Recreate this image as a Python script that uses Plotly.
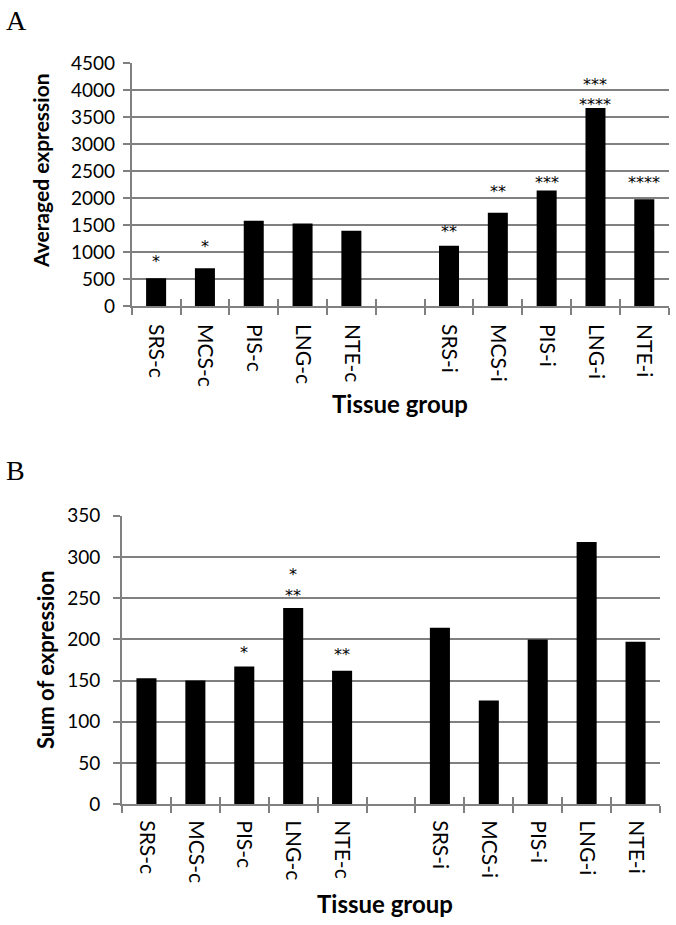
import plotly.graph_objects as go

# ---------------- data ----------------
categories = ["SRS-c", "MCS-c", "PIS-c", "LNG-c", "NTE-c", " ",
              "SRS-i", "MCS-i", "PIS-i", "LNG-i", "NTE-i"]
avg_expression = [513, 698, 1580, 1531, 1395, None, 1117, 1728, 2142, 3672, 1981]
sum_expression = [153, 150, 167, 238, 162, None, 214, 126, 200, 318, 197]

avg_ticks = [0, 500, 1000, 1500, 2000, 2500, 3000, 3500, 4000, 4500]
sum_ticks = [0, 50, 100, 150, 200, 250, 300, 350]

# significance labels (stacked from the bar upwards)
avg_sig = {"SRS-c": ["*"], "MCS-c": ["*"], "SRS-i": ["**"], "MCS-i": ["**"],
           "PIS-i": ["***"], "LNG-i": ["****", "***"], "NTE-i": ["****"]}
sum_sig = {"PIS-c": ["*"], "LNG-c": ["**", "*"], "NTE-c": ["**"]}

# ---------------- layout / style (pixels above bar top) ----------------
avg_sig_px = {"SRS-c": [20], "MCS-c": [25], "SRS-i": [17], "MCS-i": [24],
              "PIS-i": [11], "LNG-i": [6, 26], "NTE-i": [20]}
sum_sig_px = {"PIS-c": [17], "LNG-c": [16, 37], "NTE-c": [19]}

W, H = 676, 925
GRID = "#808080"
FONT = "Lato"


def px_x(v):
    return v / W


def px_y(v):
    return 1 - v / H


A_x = [px_x(131.7), px_x(668.7)]
A_y = [px_y(306), px_y(63.3)]
B_x = [px_x(122), px_x(660)]
B_y = [px_y(804.3), px_y(515.7)]

fig = go.Figure()
fig.add_trace(go.Bar(x=categories, y=avg_expression, marker_color="black",
                     marker_line_width=0, xaxis="x", yaxis="y", showlegend=False))
fig.add_trace(go.Bar(x=categories, y=sum_expression, marker_color="black",
                     marker_line_width=0, xaxis="x2", yaxis="y2", showlegend=False))
# helper empty traces for inside tick overlays
fig.add_trace(go.Scatter(x=[], y=[], xaxis="x3", yaxis="y", showlegend=False))
fig.add_trace(go.Scatter(x=[], y=[], xaxis="x4", yaxis="y2", showlegend=False))

n = len(categories)
bounds = [i - 0.5 for i in range(n + 1)]

xcommon = dict(type="category", categoryorder="array", categoryarray=categories,
               tickson="boundaries", ticks="outside", ticklen=7, tickwidth=1.6,
               tickcolor=GRID, showline=True, linecolor=GRID, linewidth=1.6,
               showgrid=False, tickangle=90, automargin=False,
               tickfont=dict(family=FONT, size=21, color="black"),
               range=[-0.5, n - 0.5], fixedrange=True)
ycommon = dict(showgrid=True, gridcolor=GRID, gridwidth=1.6, ticks="outside",
               ticklen=7, tickwidth=1.6, tickcolor=GRID, showline=True,
               linecolor=GRID, linewidth=1.6, zeroline=False, automargin=False,
               tickfont=dict(family=FONT, size=19, color="black"))
overlay = dict(range=[-0.5, n - 0.5], tickmode="array", tickvals=bounds,
               ticks="inside", ticklen=7, tickwidth=1.6, tickcolor=GRID,
               showticklabels=False, showgrid=False, showline=False,
               zeroline=False, automargin=False)

fig.update_layout(
    template="none",
    width=W, height=H, margin=dict(l=0, r=0, t=0, b=0, pad=0),
    paper_bgcolor="white", plot_bgcolor="white", bargap=0.59,
    xaxis=dict(domain=A_x, anchor="y", ticklabelstandoff=12, **xcommon),
    yaxis=dict(domain=A_y, anchor="x", range=[0, 4500], tickvals=avg_ticks,
               ticklabelstandoff=4, **ycommon),
    xaxis2=dict(domain=B_x, anchor="y2", ticklabelstandoff=10, **xcommon),
    yaxis2=dict(domain=B_y, anchor="x2", range=[0, 350], tickvals=sum_ticks,
                ticklabelstandoff=9, **ycommon),
    xaxis3=dict(overlaying="x", anchor="y", **overlay),
    xaxis4=dict(overlaying="x2", anchor="y2", **overlay),
)

ann = []
# significance asterisks
for sig, shifts, vals, xr, yr in [(avg_sig, avg_sig_px, avg_expression, "x", "y"),
                                   (sum_sig, sum_sig_px, sum_expression, "x2", "y2")]:
    for cat, labels in sig.items():
        v = vals[categories.index(cat)]
        for lab, sh in zip(labels, shifts[cat]):
            ann.append(dict(x=cat, y=v, xref=xr, yref=yr, text=lab, showarrow=False,
                            yanchor="middle", yshift=sh - 3,
                            font=dict(family="DejaVu Sans", size=16, color="black")))

# axis titles
ann.append(dict(x=px_x(40), y=px_y(171), xref="paper", yref="paper",
                xanchor="center", yanchor="middle",
                text="<b>Averaged expression</b>", textangle=-90, showarrow=False,
                font=dict(family=FONT, size=21, color="black")))
ann.append(dict(x=px_x(45), y=px_y(660), xref="paper", yref="paper",
                xanchor="center", yanchor="middle",
                text="<b>Sum of expression</b>", textangle=-90, showarrow=False,
                font=dict(family=FONT, size=22, color="black")))
ann.append(dict(x=px_x(400), y=px_y(403), xref="paper", yref="paper",
                xanchor="center", yanchor="middle",
                text="<b>Tissue group</b>", showarrow=False,
                font=dict(family=FONT, size=24, color="black")))
ann.append(dict(x=px_x(385), y=px_y(903), xref="paper", yref="paper",
                xanchor="center", yanchor="middle",
                text="<b>Tissue group</b>", showarrow=False,
                font=dict(family=FONT, size=24, color="black")))
# panel letters
ann.append(dict(x=px_x(4), y=px_y(20), xref="paper", yref="paper", text="A",
                xanchor="left", yanchor="middle", showarrow=False,
                font=dict(family="Liberation Serif", size=28, color="black")))
ann.append(dict(x=px_x(4), y=px_y(470), xref="paper", yref="paper", text="B",
                xanchor="left", yanchor="middle", showarrow=False,
                font=dict(family="Liberation Serif", size=28, color="black")))

fig.update_layout(annotations=ann)
fig.write_html("out.html", config={"displayModeBar": False},
               post_script="document.body.style.margin='0px';")
